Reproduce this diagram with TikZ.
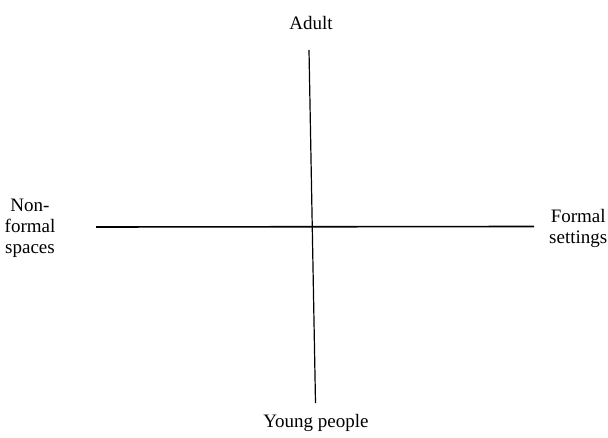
\documentclass[tikz,border=0pt]{standalone}
\usepackage{fontspec}
\setmainfont{Liberation Serif}
\begin{document}
\begin{tikzpicture}[x=1pt,y=-1pt,
  lbl/.style={inner sep=0pt, font=\fontsize{19}{21}\selectfont, align=center},
  axis/.style={line width=1.6pt, black}]
\useasboundingbox (0,0) rectangle (608,438);
\coordinate (vt) at (309,50);
\coordinate (vb) at (315.5,403);
\coordinate (hl) at (96,227);
\coordinate (hr) at (534,226.5);
\draw[line width=1.2pt] (vt) -- (vb);
\draw[axis] (hl) -- (hr);
\node[lbl] (adult) at (311,23) {Adult};
\node[lbl] (young) at (316,423) {Young people};
\node[lbl] (nonformal) at (30,228) {Non-\\formal\\spaces};
\node[lbl, anchor=west] (formal) at (549,228) {Formal\\settings};
\end{tikzpicture}
\end{document}
